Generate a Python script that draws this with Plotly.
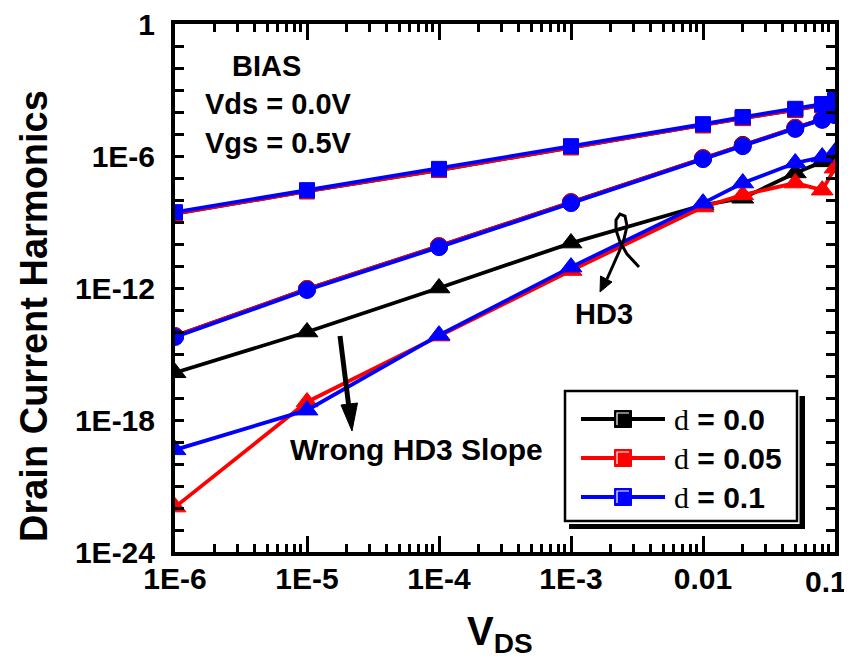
import plotly.graph_objects as go

# ---------------- data ----------------
vds = [1e-6, 1e-5, 1e-4, 1e-3, 0.01, 0.02, 0.05, 0.08, 0.1]

# d = 0.0 (black)
hd1_d0 = [2.4e-9, 2.5e-8, 2.3e-7, 2.5e-6, 2.5e-5, 5.3e-5, 1.25e-4, 2.1e-4, 3.2e-4]
hd2_d0 = [6.5e-15, 9.0e-13, 8.0e-11, 8.0e-9, 8.0e-7, 3.2e-6, 1.9e-5, 4.6e-5, 7.5e-5]
hd3_d0 = [1.4e-16, 1.0e-14, 1.0e-12, 1.1e-10, 5.9e-9, 1.2e-8, 1.7e-7, 5.4e-7, 6.6e-7]

# d = 0.05 (red)
hd1_d05 = [2.4e-9, 2.5e-8, 2.3e-7, 2.5e-6, 2.5e-5, 5.3e-5, 1.25e-4, 2.1e-4, 3.2e-4]
hd2_d05 = [6.5e-15, 9.0e-13, 8.0e-11, 8.0e-9, 8.0e-7, 3.0e-6, 1.9e-5, 4.6e-5, 7.5e-5]
hd3_d05 = [1.1e-22, 6.6e-18, 6.5e-15, 6.2e-12, 4.8e-9, 1.7e-8, 5.9e-8, 2.8e-8, 2.8e-7]

# d = 0.1 (blue)
hd1_d1 = [2.8e-9, 2.8e-8, 2.6e-7, 2.8e-6, 2.8e-5, 5.9e-5, 1.4e-4, 2.3e-4, 3.5e-4]
hd2_d1 = [5.9e-15, 8.1e-13, 7.2e-11, 7.2e-9, 7.2e-7, 2.8e-6, 1.7e-5, 4.4e-5, 7.2e-5]
hd3_d1 = [4.4e-20, 2.8e-18, 7.2e-15, 8.9e-12, 7.2e-9, 5.9e-8, 4.8e-7, 8.9e-7, 1.5e-6]

x_tick_vals = [1e-6, 1e-5, 1e-4, 1e-3, 1e-2, 1e-1]
x_tick_text = ["1E-6", "1E-5", "1E-4", "1E-3", "0.01", "0.1"]
y_label_text = {0: "1", -6: "1E-6", -12: "1E-12", -18: "1E-18", -24: "1E-24"}

legend_labels = ["0.0", "0.05", "0.1"]
colors = ["#000000", "#ff0000", "#0000ff"]

series = [
    (hd1_d0, hd2_d0, hd3_d0),
    (hd1_d05, hd2_d05, hd3_d05),
    (hd1_d1, hd2_d1, hd3_d1),
]

# ---------------- figure ----------------
# The page body adds an 8px offset, so the figure is 8px smaller than the window.
OFF = 8
WIN_W, WIN_H = 852, 665
W, H = WIN_W - OFF, WIN_H - OFF
# plot area in window pixels
X0, X1, Y0, Y1 = 175, 835, 24, 552
L, T = X0 - OFF, Y0 - OFF
R, B = WIN_W - X1, WIN_H - Y1
PW, PH = X1 - X0, Y1 - Y0


def px(x):
    return (x - X0) / PW


def py(y):
    return (Y1 - y) / PH


fig = go.Figure()
symbols = ["square", "circle", "triangle-up"]
sizes = [15, 17, 19]
for (h1, h2, h3), col, lab in zip(series, colors, legend_labels):
    for vals, sym, sz in zip((h1, h2, h3), symbols, sizes):
        fig.add_trace(go.Scatter(
            x=vds, y=vals, mode="lines+markers",
            line=dict(color=col, width=3.8),
            marker=dict(symbol=sym, size=sz, color=col, line=dict(color=col, width=1)),
            showlegend=False, name="d = " + lab,
        ))

minor_x = [m * 10 ** e for e in range(-6, -1) for m in range(2, 10)]
y_ticks = [10.0 ** k for k in range(0, -25, -1)]
y_text = [y_label_text.get(k, "") for k in range(0, -25, -1)]

# the last x label sits at the window edge; it is drawn as an annotation shifted inward
x_text_axis = x_tick_text[:-1] + [""]

axis_common = dict(showgrid=False, zeroline=False, showline=True, linecolor="black",
                   linewidth=4, mirror="ticks", ticks="inside", tickcolor="black",
                   ticklabeloverflow="allow", automargin=False)

tick_font = dict(family="Liberation Sans, Arial", size=30, color="black", weight="bold")

fig.update_xaxes(type="log", range=[-6, -1], tickvals=x_tick_vals, ticktext=x_text_axis,
                 ticklen=16, tickwidth=3,
                 minor=dict(tickvals=minor_x, ticks="inside", ticklen=8, tickwidth=2.5,
                            tickcolor="black", showgrid=False),
                 tickfont=tick_font, ticklabelstandoff=-3, **axis_common)
fig.update_yaxes(type="log", range=[-24, 0], tickvals=y_ticks, ticktext=y_text,
                 ticklen=9, tickwidth=3, tickfont=tick_font,
                 ticklabelstandoff=10, **axis_common)

shapes = []
annos = []


def label(x, y, text, font, xanchor="center", yanchor="middle", **kw):
    annos.append(dict(x=px(x), y=py(y), xref="paper", yref="paper", text=text,
                      showarrow=False, font=font, xanchor=xanchor, yanchor=yanchor, **kw))


label(849, 581, x_tick_text[-1], tick_font, xanchor="right")

# axis titles
label(34, 316, "Drain Current Harmonics",
      dict(family="Liberation Sans, Arial", size=38, color="black", weight="bold"),
      textangle=-90)
label(500, 634, "V<sub>DS</sub>",
      dict(family="Liberation Sans, Arial", size=40, color="black", weight="bold"))

# bias text and notes
txt_font = dict(family="Liberation Sans, Arial", size=29, color="black", weight="bold")
label(230, 66, "BIAS", txt_font, xanchor="left")
label(203, 104, "Vds = 0.0V", txt_font, xanchor="left")
label(203, 143, "Vgs = 0.5V", txt_font, xanchor="left")
label(604, 314, "HD3", txt_font)
label(416, 449, "Wrong HD3 Slope",
      dict(family="Liberation Sans, Arial", size=30, color="black", weight="bold"))

# straight arrow (Wrong HD3 slope)
shapes.append(dict(type="line", xref="paper", yref="paper",
                   x0=px(340), y0=py(336), x1=px(349), y1=py(408),
                   line=dict(color="black", width=5)))
shapes.append(dict(type="path", xref="paper", yref="paper",
                   path="M {} {} L {} {} L {} {} Z".format(px(352), py(431), px(341), py(405),
                                                          px(357.5), py(403)),
                   fillcolor="black", line=dict(color="black", width=1)))

# loop arrow (HD3)
loop_pts = [(639, 267), (627, 254), (620, 242), (616, 230), (616, 220), (620, 214),
            (625, 216), (627, 226), (624, 239), (619, 252), (607, 279)]
path = "M " + " L ".join("{} {}".format(px(a), py(b)) for a, b in loop_pts)
shapes.append(dict(type="path", xref="paper", yref="paper", path=path,
                   line=dict(color="black", width=3)))
shapes.append(dict(type="path", xref="paper", yref="paper",
                   path="M {} {} L {} {} L {} {} Z".format(px(600), py(292), px(600.5), py(276),
                                                          px(612), py(282)),
                   fillcolor="black", line=dict(color="black", width=1)))

# custom legend box with shadow
shapes.append(dict(type="rect", xref="paper", yref="paper", layer="above",
                   x0=px(569), y0=py(529), x1=px(805), y1=py(396),
                   fillcolor="black", line=dict(width=0)))
shapes.append(dict(type="rect", xref="paper", yref="paper", layer="above",
                   x0=px(563), y0=py(524), x1=px(799.5), y1=py(389),
                   fillcolor="white", line=dict(width=0)))
shapes.append(dict(type="rect", xref="paper", yref="paper", layer="above",
                   x0=px(565), y0=py(521), x1=px(797), y1=py(391),
                   fillcolor="white", line=dict(color="black", width=2.5)))
row_y = [419, 458, 497]
leg_font = dict(family="Liberation Sans, Arial", size=30, color="black", weight="bold")
for yy, col, lab in zip(row_y, colors, legend_labels):
    shapes.append(dict(type="line", xref="paper", yref="paper", layer="above",
                       x0=px(581), x1=px(665), y0=py(yy), y1=py(yy),
                       line=dict(color=col, width=3.8)))
    shapes.append(dict(type="rect", xref="paper", yref="paper", layer="above",
                       x0=px(614.5), x1=px(631.5), y0=py(yy + 8.5), y1=py(yy - 8.5),
                       fillcolor=col, line=dict(color=col, width=1)))
    shapes.append(dict(type="path", xref="paper", yref="paper", layer="above",
                       path="M {} {} L {} {} L {} {}".format(px(617), py(yy + 6), px(617),
                                                             py(yy - 6), px(629), py(yy - 6)),
                       line=dict(color="white", width=1.2)))
    label(672, yy,
          "<span style='font-family:Liberation Serif;font-weight:normal'>d</span> = " + lab,
          leg_font, xanchor="left")

fig.update_layout(
    width=W, height=H, margin=dict(l=L, r=R, t=T, b=B, autoexpand=False),
    paper_bgcolor="white", plot_bgcolor="white",
    shapes=shapes, annotations=annos, showlegend=False,
)

fig.write_html("out.html")
